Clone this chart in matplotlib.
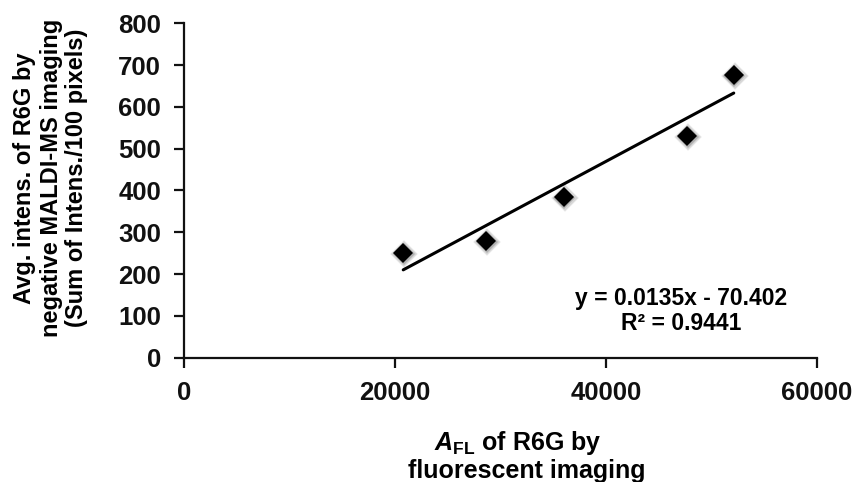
import matplotlib
matplotlib.use("Agg")
import matplotlib.pyplot as plt
import matplotlib.transforms as mtransforms
import numpy as np

# Data
x_fl = [20780, 28610, 36000, 47700, 52110]
y_ms = [250, 279, 385, 530, 676]
slope = 0.0135
intercept = -70.402
eq_text = "y = 0.0135x - 70.402"
r2_text = "R\u00b2 = 0.9441"
xticks = [0, 20000, 40000, 60000]
yticks = [0, 100, 200, 300, 400, 500, 600, 700, 800]

plt.rcParams['font.family'] = ['Liberation Sans', 'DejaVu Sans']
plt.rcParams['font.weight'] = 'bold'
plt.rcParams['mathtext.fontset'] = 'custom'
plt.rcParams['mathtext.rm'] = 'Liberation Sans:bold'
plt.rcParams['mathtext.it'] = 'Liberation Sans:bold:italic'
plt.rcParams['mathtext.bf'] = 'Liberation Sans:bold'

fig = plt.figure(figsize=(8.59, 4.82), dpi=100)
ax = fig.add_axes([0.2142, 0.2579, 0.9511 - 0.2142, 0.9517 - 0.2579])

# soft shadow for markers
for dx, dy, ms, a in [(0.6, -0.8, 14.0, 0.06), (0.6, -0.8, 12.8, 0.10),
                      (0.5, -0.6, 11.6, 0.18)]:
    tr = mtransforms.offset_copy(ax.transData, fig=fig, x=dx, y=dy, units='points')
    ax.plot(x_fl, y_ms, linestyle='none', marker='D', markersize=ms,
            color='black', alpha=a, markeredgewidth=0, transform=tr, zorder=2)
ax.plot(x_fl, y_ms, linestyle='none', marker='D', markersize=10,
        color='black', markeredgewidth=0, zorder=3)

xs = np.array([min(x_fl), max(x_fl)])
ax.plot(xs, slope * xs + intercept, color='black', linewidth=2.2,
        solid_capstyle='round', zorder=4)

ax.set_xlim(0, 60000)
ax.set_ylim(0, 800)
ax.set_xticks(xticks)
ax.set_yticks(yticks)
ax.set_xticklabels([str(v) for v in xticks])
ax.set_yticklabels([str(v) for v in yticks])
for s in ['top', 'right']:
    ax.spines[s].set_visible(False)
for s in ['left', 'bottom']:
    ax.spines[s].set_linewidth(1.6)
    ax.spines[s].set_color('#111111')
ax.tick_params(axis='both', direction='out', length=7.5, width=1.6,
               labelsize=18.5, colors='#111111')
ax.tick_params(axis='y', pad=9)
ax.tick_params(axis='x', pad=9)

ax.text(0.785, 0.14, eq_text + "\n" + r2_text, transform=ax.transAxes,
        ha='center', va='center', fontsize=16.5, fontweight='bold',
        linespacing=1.1)

fig.text(518 / 859, 1 - 443 / 482,
         r"$\mathit{A}_{\mathrm{FL}}$" + " of R6G by", ha='center', va='center',
         fontsize=18, fontweight='bold')
fig.text(527 / 859, 1 - 471 / 482,
         "fluorescent imaging", ha='center', va='center',
         fontsize=18, fontweight='bold')

ylabel_lines = ["Avg. intens. of R6G by", "negative MALDI-MS imaging",
                "(Sum of Intens./100 pixels)"]
for xpix, txt in zip([25, 52, 77], ylabel_lines):
    fig.text(xpix / 859, 1 - 178 / 482, txt, rotation=90, ha='center',
             va='center', fontsize=17, fontweight='bold')

fig.savefig("out.png", dpi=100)
